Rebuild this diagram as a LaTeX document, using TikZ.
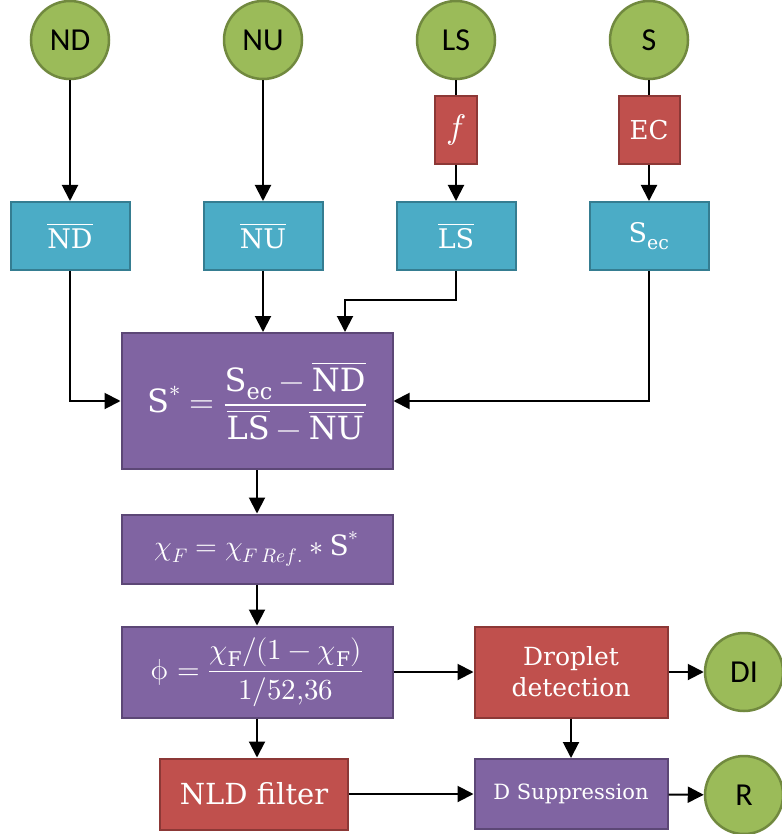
\documentclass[tikz,border=0pt]{standalone}
\usepackage{unicode-math}
\setmainfont{DejaVu Serif}
\setmathfont{Latin Modern Math}
\newfontfamily\calib{Carlito}
\usetikzlibrary{arrows.meta,positioning}
\definecolor{ingreen}{HTML}{9BBB59}
\definecolor{ingreenb}{HTML}{71893F}
\definecolor{avgblue}{HTML}{4BACC6}
\definecolor{avgblueb}{HTML}{357D91}
\definecolor{opred}{HTML}{C0504D}
\definecolor{opredb}{HTML}{8C3836}
\definecolor{calcpur}{HTML}{8064A2}
\definecolor{calcpurb}{HTML}{5C4776}
\tikzstyle{sig}=[circle,draw=ingreenb,fill=ingreen,line width=2.5pt,minimum size=78pt,inner sep=0pt,font=\calib\fontsize{32}{34}\selectfont]
\tikzstyle{avg}=[rectangle,draw=avgblueb,fill=avgblue,line width=2pt,minimum width=119pt,minimum height=68pt,inner sep=0pt,text=white,font=\fontsize{27}{30}\selectfont]
\tikzstyle{op}=[rectangle,draw=opredb,fill=opred,line width=2pt,minimum height=68pt,inner sep=0pt,text=white,align=center,font=\fontsize{26}{30}\selectfont]
\tikzstyle{calc}=[rectangle,draw=calcpurb,fill=calcpur,line width=2pt,minimum width=271pt,inner sep=0pt,text=white,align=center,font=\fontsize{29}{32}\selectfont]
\tikzstyle{arr}=[-{Triangle[length=16pt,width=16pt]},line width=2pt]

\begin{document}
\begin{tikzpicture}[x=1pt,y=-1pt]
\useasboundingbox (0,0) rectangle (781,834);
% inputs
\node[sig] (nd) at (70,40) {ND};
\node[sig] (nu) at (263,40) {NU};
\node[sig] (ls) at (456,40) {LS};
\node[sig] (s) at (649,40) {S};
\node[op, minimum width=42pt, font=\fontsize{34}{36}\selectfont] (fn) at (456,130) {$f$};
\node[op, minimum width=61pt] (ec) at (649,130) {EC};
% averaged signals
\node[avg] (ndb) at (70,236) {$\overline{\mathrm{ND}}$};
\node[avg] (nub) at (263,236) {$\overline{\mathrm{NU}}$};
\node[avg] (lsb) at (456,236) {$\overline{\mathrm{LS}}$};
\node[avg] (secb) at (649,236) {$\mathrm{S}_{\mathrm{ec}}$};
% calculation chain
\node[calc, minimum height=136pt, font=\fontsize{32}{36}\selectfont] (star) at (257,401) {$\mathrm{S}^{*}=\displaystyle\frac{\mathrm{S}_{\mathrm{ec}}-\overline{\mathrm{ND}}}{\overline{\mathrm{LS}}-\overline{\mathrm{NU}}}$};
\node[calc, minimum height=69pt, font=\fontsize{28}{30}\selectfont] (chi) at (257,549) {$\chi_{F}=\chi_{F\,Ref.}*\mathrm{S}^{*}$};
\node[calc, minimum height=91pt] (phi) at (257,672) {$\upphi=\displaystyle\frac{\chi_{\mathrm{F}}/(1-\chi_{\mathrm{F}})}{1/52{,}36}$};
\node[op, minimum width=193pt, minimum height=91pt, font=\fontsize{25}{31}\selectfont] (drop) at (571,672) {Droplet\\detection};
\node[sig] (di) at (744,672) {DI};
\node[op, minimum width=188pt, minimum height=71pt, font=\fontsize{29}{32}\selectfont] (nld) at (254,794) {NLD filter};
\node[calc, minimum width=193pt, minimum height=70pt, font=\fontsize{21}{24}\selectfont] (dsup) at (571,794) {D Suppression};
\node[sig] (r) at (744,795) {R};
\coordinate (lsbend) at (345,300);
% connectors
\draw[arr] (nd) -- (ndb);
\draw[arr] (nu) -- (nub);
\draw[line width=2pt] (ls) -- (fn);
\draw[arr] (fn) -- (lsb);
\draw[line width=2pt] (s) -- (ec);
\draw[arr] (ec) -- (secb);
\draw[arr] (ndb.south) |- (star.west);
\draw[arr] (nub.south) -- (nub.south |- star.north);
\draw[arr] (lsb.south) |- (lsbend) -- (lsbend |- star.north);
\draw[arr] (secb.south) |- (star.east);
\draw[arr] (star) -- (chi);
\draw[arr] (chi) -- (phi);
\draw[arr] (phi) -- (drop);
\draw[arr] (drop) -- (di);
\draw[arr] (phi.south) -- (phi.south |- nld.north);
\draw[arr] (drop) -- (dsup);
\draw[arr] (nld) -- (dsup);
\draw[arr] (dsup) -- (r);
\end{tikzpicture}
\end{document}
